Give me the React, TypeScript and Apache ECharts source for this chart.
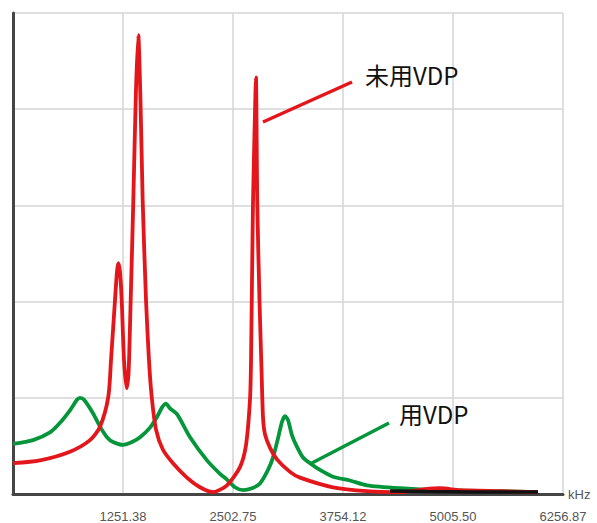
import React, { useEffect, useRef } from "react";
import * as echarts from "echarts";

// x-axis (kHz)
const xMax = 6256.87;
const xStep = 1251.374;
const xUnit = "kHz";
const xTickLabels = ["1251.38", "2502.75", "3754.12", "5005.50", "6256.87"];

// 未用VDP (red)
const redX = [0, 307, 648, 876, 990, 1084, 1115, 1160, 1183, 1198, 1217, 1237, 1263, 1293, 1314, 1339, 1369, 1399, 1425, 1450, 1475, 1513, 1547, 1578, 1627, 1706, 1820, 1979, 2127, 2275, 2434, 2582, 2651, 2696, 2708, 2730, 2759, 2764, 2779, 2804, 2827, 2844, 2867, 2924, 3003, 3151, 3265, 3640, 4027, 4403, 4687, 4857, 5085, 5540, 5972];
const redY = [0.32, 0.35, 0.44, 0.56, 0.7, 1.01, 1.39, 2.01, 2.31, 2.4, 2.31, 2.01, 1.39, 1.1, 1.24, 2.02, 3.06, 4.2, 4.77, 4.1, 3.06, 2.02, 1.39, 1.01, 0.67, 0.46, 0.32, 0.17, 0.07, 0.02, 0.09, 0.28, 0.51, 0.98, 1.39, 3.02, 4.2, 4.33, 3.02, 2.02, 1.3, 0.8, 0.62, 0.48, 0.36, 0.23, 0.17, 0.07, 0.03, 0.02, 0.05, 0.06, 0.04, 0.03, 0.02];

// 用VDP (green)
const greenX = [0, 228, 421, 535, 648, 728, 762, 808, 910, 990, 1069, 1138, 1251, 1354, 1445, 1559, 1638, 1695, 1740, 1786, 1866, 2014, 2207, 2355, 2434, 2525, 2617, 2719, 2810, 2901, 2958, 3015, 3060, 3094, 3128, 3174, 3231, 3299, 3379, 3492, 3640, 3834, 4027, 4403, 4857, 5540, 5972];
const greenY = [0.52, 0.56, 0.64, 0.74, 0.87, 0.98, 1.0, 0.98, 0.84, 0.7, 0.59, 0.54, 0.51, 0.54, 0.59, 0.69, 0.8, 0.9, 0.94, 0.89, 0.83, 0.59, 0.35, 0.21, 0.15, 0.07, 0.04, 0.06, 0.11, 0.25, 0.38, 0.58, 0.75, 0.81, 0.77, 0.61, 0.49, 0.38, 0.32, 0.25, 0.18, 0.14, 0.09, 0.06, 0.04, 0.03, 0.02];

// where both curves overlap near the baseline (drawn dark)
const overlapX = [4290, 4700, 5200, 5972];
const overlapY = [0.03, 0.025, 0.02, 0.02];

const redName = "未用VDP";
const greenName = "用VDP";

const zip = (xs: number[], ys: number[]) => xs.map((x, i) => [x, ys[i]]);

export default function App() {
  const ref = useRef<HTMLDivElement>(null);
  useEffect(() => {
    if (!ref.current) return;
    const chart = echarts.init(ref.current, undefined, { renderer: "svg" });
    const red = "#e3161b";
    const green = "#05963c";
    chart.setOption({
      animation: false,
      backgroundColor: "#ffffff",
      grid: { left: 13, right: 34, top: 13, bottom: 29, containLabel: false },
      xAxis: {
        type: "value",
        min: 0,
        max: xMax,
        interval: xStep,
        name: xUnit,
        nameLocation: "end",
        nameGap: 5,
        nameTextStyle: { color: "#555", fontSize: 13, fontFamily: "Liberation Sans" },
        axisLine: { lineStyle: { color: "#454545", width: 3 } },
        axisTick: { show: false },
        axisLabel: {
          color: "#555",
          fontSize: 13,
          margin: 16,
          fontFamily: "Liberation Sans",
          formatter: (v: number, i: number) => (i === 0 || v === 0 ? "" : xTickLabels[i - 1] ?? ""),
        },
        splitLine: { show: true, lineStyle: { color: "#d4d4d4", width: 1.5 } },
      },
      yAxis: {
        type: "value",
        min: 0,
        max: 5,
        interval: 1,
        axisLine: { show: true, lineStyle: { color: "#454545", width: 3 } },
        axisTick: { show: false },
        axisLabel: { show: false },
        splitLine: { show: true, lineStyle: { color: "#d4d4d4", width: 1.5 } },
      },
      series: [
        {
          name: greenName,
          type: "line",
          data: zip(greenX, greenY),
          showSymbol: false,
          smooth: 0.25,
          lineStyle: { color: green, width: 3.8, join: "round" },
          z: 2,
        },
        {
          name: redName,
          type: "line",
          data: zip(redX, redY),
          showSymbol: false,
          smooth: 0.25,
          lineStyle: { color: red, width: 3.8, join: "round" },
          z: 3,
        },
        {
          name: "overlap",
          type: "line",
          data: zip(overlapX, overlapY),
          showSymbol: false,
          lineStyle: { color: "#111", width: 3.5 },
          z: 4,
        },
      ],
      graphic: [
        {
          type: "line",
          shape: { x1: 263, y1: 122, x2: 352, y2: 82 },
          style: { stroke: red, lineWidth: 3.5 },
          z: 10,
        },
        {
          type: "text",
          x: 365,
          y: 74,
          style: {
            text: redName,
            fill: "#111",
            font: "24px 'Noto Sans CJK SC', sans-serif",
            verticalAlign: "middle",
          },
          z: 10,
        },
        {
          type: "line",
          shape: { x1: 310, y1: 464, x2: 389, y2: 423 },
          style: { stroke: green, lineWidth: 3.5 },
          z: 10,
        },
        {
          type: "text",
          x: 399,
          y: 413,
          style: {
            text: greenName,
            fill: "#111",
            font: "24px 'Noto Sans CJK SC', sans-serif",
            verticalAlign: "middle",
          },
          z: 10,
        },
      ],
    });
    return () => chart.dispose();
  }, []);
  return (
    <div
      ref={ref}
      style={{ position: "absolute", left: 0, top: 0, width: 597, height: 523 }}
    />
  );
}
